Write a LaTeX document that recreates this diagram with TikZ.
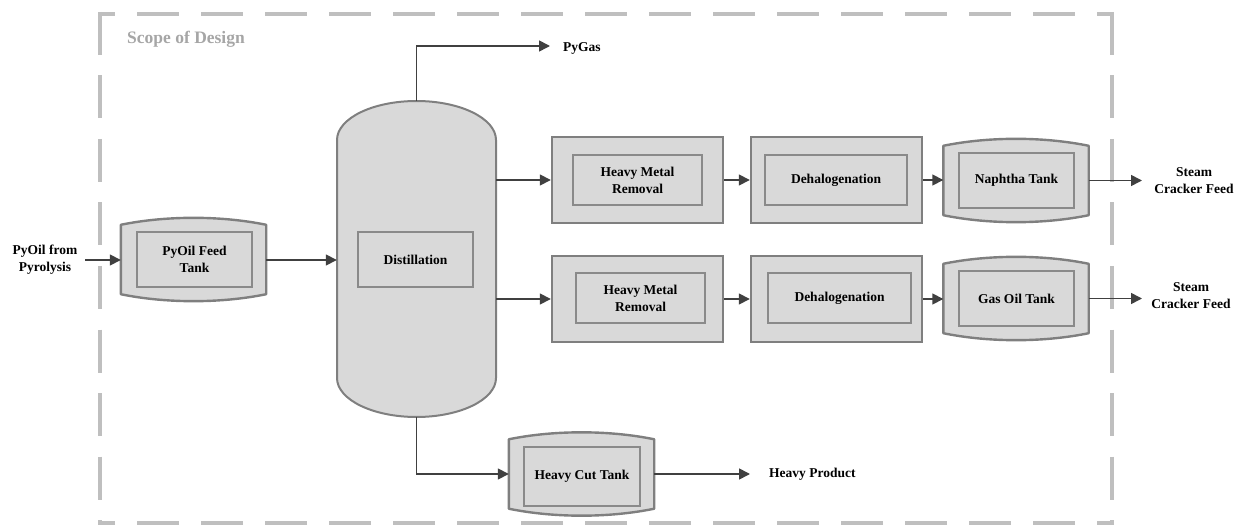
\documentclass[tikz,border=0pt]{standalone}
\usepackage{fontspec}
\setmainfont{Liberation Serif}
\usetikzlibrary{arrows.meta,calc}
\definecolor{boxfill}{HTML}{D9D9D9}
\definecolor{boxgray}{HTML}{7F7F7F}
\definecolor{innergray}{HTML}{8A8A8A}
\definecolor{arrowc}{HTML}{404040}
\definecolor{scopec}{HTML}{BFBFBF}
\definecolor{scopetext}{HTML}{A6A6A6}
\newcommand\tankoutline[1]{%
  \draw[tankline] ([yshift=-7pt]#1.north west)
    .. controls ([xshift=45pt,yshift=2.3pt]#1.north west) and ([xshift=-45pt,yshift=2.3pt]#1.north east) .. ([yshift=-7pt]#1.north east)
    -- ([yshift=7pt]#1.south east)
    .. controls ([xshift=-45pt,yshift=-2.3pt]#1.south east) and ([xshift=45pt,yshift=-2.3pt]#1.south west) .. ([yshift=7pt]#1.south west)
    -- cycle;}
\tikzset{
  txt/.style={font=\bfseries\fontsize{13.5}{17}\selectfont, align=center, text=black, inner sep=0pt},
  procbox/.style={draw=boxgray, line width=2.4pt, fill=boxfill, minimum width=171pt, minimum height=86pt, inner sep=0pt},
  innerbox/.style={txt, draw=innergray, line width=1.3pt, fill=boxfill, minimum height=50pt},
  tankbase/.style={draw=none, minimum width=145pt, minimum height=83pt, inner sep=0pt},
  tankline/.style={draw=boxgray, line width=2.4pt, fill=boxfill, line join=round},
  vessel/.style={draw=boxgray, line width=2pt, fill=boxfill},
  flow/.style={draw=arrowc, line width=1.6pt, -{Triangle[length=11pt,width=11pt]}},
  scopeline/.style={draw=scopec, line width=4pt},
}
\begin{document}
\begin{tikzpicture}[x=1pt,y=-1pt]
\useasboundingbox (0,0) rectangle (1242,529);
% scope of design border
\draw[scopeline, dash pattern=on 42pt off 22pt, dash phase=25pt] (98,14) -- (1114,14);
\draw[scopeline, dash pattern=on 43pt off 20.5pt] (1112,12) -- (1112,525);
\draw[scopeline, dash pattern=on 42pt off 22pt, dash phase=25pt] (1114,523) -- (98,523);
\draw[scopeline, dash pattern=on 43pt off 20.5pt] (100,12) -- (100,525);
\node[anchor=west, font=\bfseries\fontsize{17.5}{20}\selectfont, text=scopetext, inner sep=0pt] (scope) at (127,39) {Scope of Design};

% feed tank
\node[tankbase] (pyt) at (193.5,259.5) {};
\tankoutline{pyt}
\node[innerbox, minimum width=115pt, minimum height=55pt] (pyti) at (194.5,259.5) {PyOil Feed\\Tank};

% distillation vessel
\node[draw=none, minimum width=159pt, minimum height=316pt, inner sep=0pt] (dist) at (416.5,259) {};
\draw[vessel] (337,140) .. controls (337,118.5) and (372.6,101) .. (416.5,101)
  .. controls (460.4,101) and (496,118.5) .. (496,140) -- (496,378)
  .. controls (496,399.5) and (460.4,417) .. (416.5,417)
  .. controls (372.6,417) and (337,399.5) .. (337,378) -- cycle;
\node[innerbox, minimum width=115pt, minimum height=55pt] (disti) at (415.5,259.5) {Distillation};

% row 1
\node[procbox] (hmr1) at (637.5,180) {};
\node[innerbox, minimum width=129pt] (hmr1i) at (637.5,180) {Heavy Metal\\Removal};
\node[procbox] (deh1) at (836.5,180) {};
\node[innerbox, minimum width=142pt] (deh1i) at (836,180) {Dehalogenation};
\node[tankbase] (nap) at (1016,180.5) {};
\tankoutline{nap}
\node[innerbox, minimum width=115pt, minimum height=55pt] (napi) at (1016.5,180.5) {Naphtha Tank};

% row 2
\node[procbox] (hmr2) at (637.5,299) {};
\node[innerbox, minimum width=129pt] (hmr2i) at (640.5,298) {Heavy Metal\\Removal};
\node[procbox] (deh2) at (836.5,299) {};
\node[innerbox, minimum width=143pt] (deh2i) at (839.5,298) {Dehalogenation};
\node[tankbase] (gas) at (1016,298.5) {};
\tankoutline{gas}
\node[innerbox, minimum width=115pt, minimum height=55pt] (gasi) at (1016.5,298.5) {Gas Oil Tank};

% heavy cut tank
\node[tankbase] (hct) at (581.5,474) {};
\tankoutline{hct}
\node[innerbox, minimum width=116pt, minimum height=59pt] (hcti) at (582,476.5) {Heavy Cut Tank};

% labels
\node[txt] (feedlbl) at (45,260) {PyOil from\\Pyrolysis};
\node[txt, anchor=west] (pygas) at (563,48) {PyGas};
\node[txt] (sc1) at (1194,181) {Steam\\Cracker Feed};
\node[txt] (sc2) at (1191,296) {Steam\\Cracker Feed};
\node[txt, anchor=west] (hprod) at (769,474) {Heavy Product};

% free ends
\coordinate (inend) at (85,260);
\coordinate (pgend) at (550,46);
\coordinate (sc1end) at (1142,180.5);
\coordinate (sc2end) at (1142,298.5);
\coordinate (hpend) at (750,474);

% connectors
\draw[flow] (inend) -- (pyt.west |- inend);
\draw[flow] (pyt.east |- inend) -- (dist.west |- inend);
\draw[flow] (dist.north) |- (pgend);
\draw[flow] (dist.east |- hmr1) -- (hmr1);
\draw[flow] (hmr1) -- (deh1);
\draw[flow] (deh1) -- (nap.west |- deh1);
\draw[flow] (nap.east) -- (sc1end);
\draw[flow] (dist.east |- hmr2) -- (hmr2);
\draw[flow] (hmr2) -- (deh2);
\draw[flow] (deh2) -- (gas.west |- deh2);
\draw[flow] (gas.east) -- (sc2end);
\draw[flow] (dist.south) |- (hct.west);
\draw[flow] (hct.east) -- (hpend);
\end{tikzpicture}
\end{document}
